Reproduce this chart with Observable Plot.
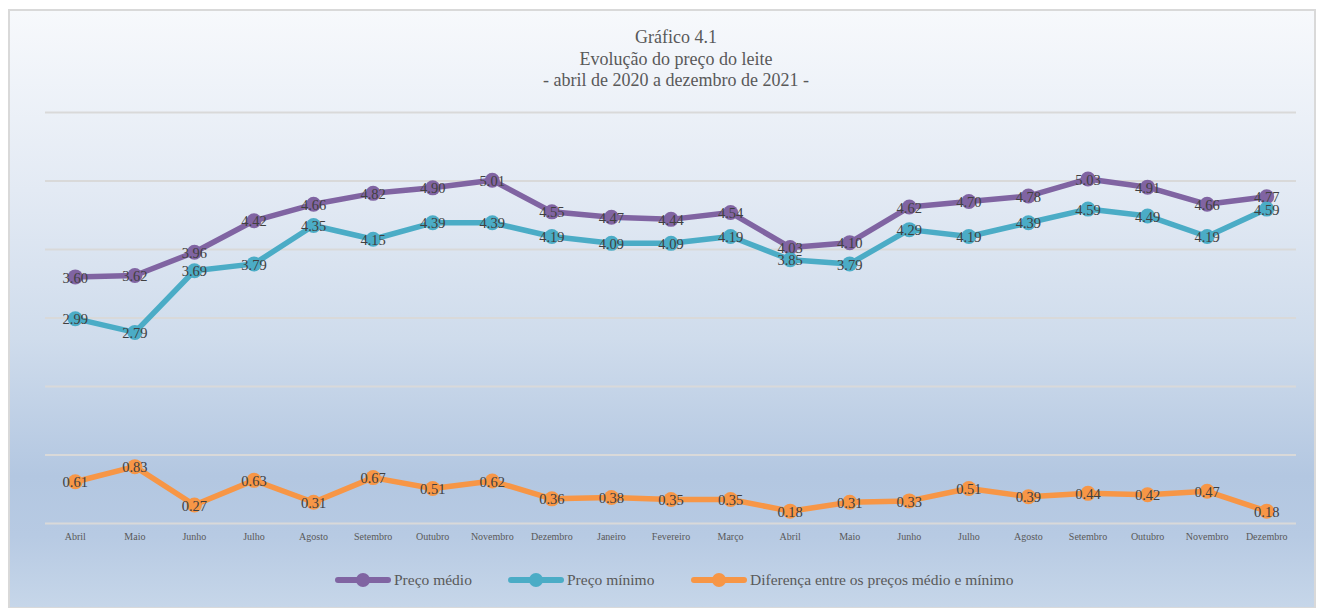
<!DOCTYPE html>
<html>
<head>
<meta charset="utf-8">
<script src="https://cdn.jsdelivr.net/npm/d3@7"></script>
<script src="https://cdn.jsdelivr.net/npm/@observablehq/plot@0.6"></script>
<style>
  html, body { margin: 0; padding: 0; background: #ffffff; }
  #wrap { position: relative; width: 1320px; height: 608px; overflow: hidden; font-family: "Liberation Serif", "DejaVu Serif", serif; }
  #frame { position: absolute; left: 8px; top: 9px; width: 1308px; height: 600px; border: 2px solid #d9d9d9; box-sizing: border-box;
    background: linear-gradient(to bottom, #f7f9fc 0%, #e3eaf4 30%, #cfdcec 55%, #b3c7e1 78%, #b7cae3 88%, #c6d6e9 100%); }
  #title { position: absolute; left: 0; top: 27px; width: 1352px; text-align: center; color: #595959; font-size: 18px; line-height: 21.5px; }
  #chart { position: absolute; left: 0; top: 0; }
  #legend { position: absolute; top: 569px; left: 0; width: 1320px; height: 22px; }
  .item { position: absolute; top: 0; display: flex; align-items: center; height: 22px; color: #595959; font-size: 15.5px; white-space: nowrap; }
  .sw { position: relative; width: 56px; height: 22px; margin-right: 3px; }
  .sw .ln { position: absolute; left: 0; right: 0; top: 8px; height: 6px; border-radius: 3px; }
  .sw .dt { position: absolute; left: 21px; top: 4px; width: 14px; height: 14px; border-radius: 7px; }
</style>
</head>
<body>
<div id="wrap">
  <div id="frame"></div>
  <div id="title">Gráfico 4.1<br>Evolução do preço do leite<br>- abril de 2020 a dezembro de 2021 -</div>
  <div id="chart"></div>
  <div id="legend"></div>
</div>
<script>
const months = ["Abril","Maio","Junho","Julho","Agosto","Setembro","Outubro","Novembro","Dezembro","Janeiro","Fevereiro","Março","Abril","Maio","Junho","Julho","Agosto","Setembro","Outubro","Novembro","Dezembro"];
const precoMedio = [3.60,3.62,3.96,4.42,4.66,4.82,4.90,5.01,4.55,4.47,4.44,4.54,4.03,4.10,4.62,4.70,4.78,5.03,4.91,4.66,4.77];
const precoMinimo = [2.99,2.79,3.69,3.79,4.35,4.15,4.39,4.39,4.19,4.09,4.09,4.19,3.85,3.79,4.29,4.19,4.39,4.59,4.49,4.19,4.59];
const diferenca = [0.61,0.83,0.27,0.63,0.31,0.67,0.51,0.62,0.36,0.38,0.35,0.35,0.18,0.31,0.33,0.51,0.39,0.44,0.42,0.47,0.18];
const seriesNames = ["Preço médio","Preço mínimo","Diferença entre os preços médio e mínimo"];
const seriesColors = ["#8064a2","#4bacc6","#f79646"];
const yTicks = [0,1,2,3,4,5,6];

const seriesValues = [precoMedio, precoMinimo, diferenca];
const data = seriesValues.flatMap((vals, k) => vals.map((v, i) => ({i, v, s: seriesNames[k]})));

const chart = Plot.plot({
  width: 1320,
  height: 560,
  marginTop: 112,
  marginBottom: 37,
  marginLeft: 45,
  marginRight: 24,
  style: {background: "transparent", fontFamily: "Liberation Serif, serif"},
  x: {type: "point", domain: d3.range(months.length), padding: 0.5, round: false},
  y: {domain: [0, 6], axis: null},
  color: {domain: seriesNames, range: seriesColors},
  marks: [
    Plot.gridY(yTicks, {stroke: "#d9d9d9", strokeOpacity: 1, strokeWidth: 2}),
    Plot.line(data, {x: "i", y: "v", z: "s", stroke: "s", strokeWidth: 5.5, strokeLinejoin: "round"}),
    Plot.dot(data, {x: "i", y: "v", fill: "s", r: 7.5, stroke: null}),
    Plot.text(data, {x: "i", y: "v", text: d => d.v.toFixed(2), fill: "#404040", fontSize: 14.5, dy: 1}),
    Plot.axisX({tickSize: 0, tickPadding: 9, tickFormat: i => months[i], label: null, fontSize: 10, color: "#595959"})
  ]
});
document.getElementById("chart").appendChild(chart);

const legendPos = [335, 508, 691];
const legend = document.getElementById("legend");
seriesNames.forEach((name, k) => {
  const item = document.createElement("div");
  item.className = "item";
  item.style.left = legendPos[k] + "px";
  item.innerHTML = `<div class="sw"><div class="ln" style="background:${seriesColors[k]}"></div><div class="dt" style="background:${seriesColors[k]}"></div></div><span>${name}</span>`;
  legend.appendChild(item);
});
</script>
</body>
</html>
